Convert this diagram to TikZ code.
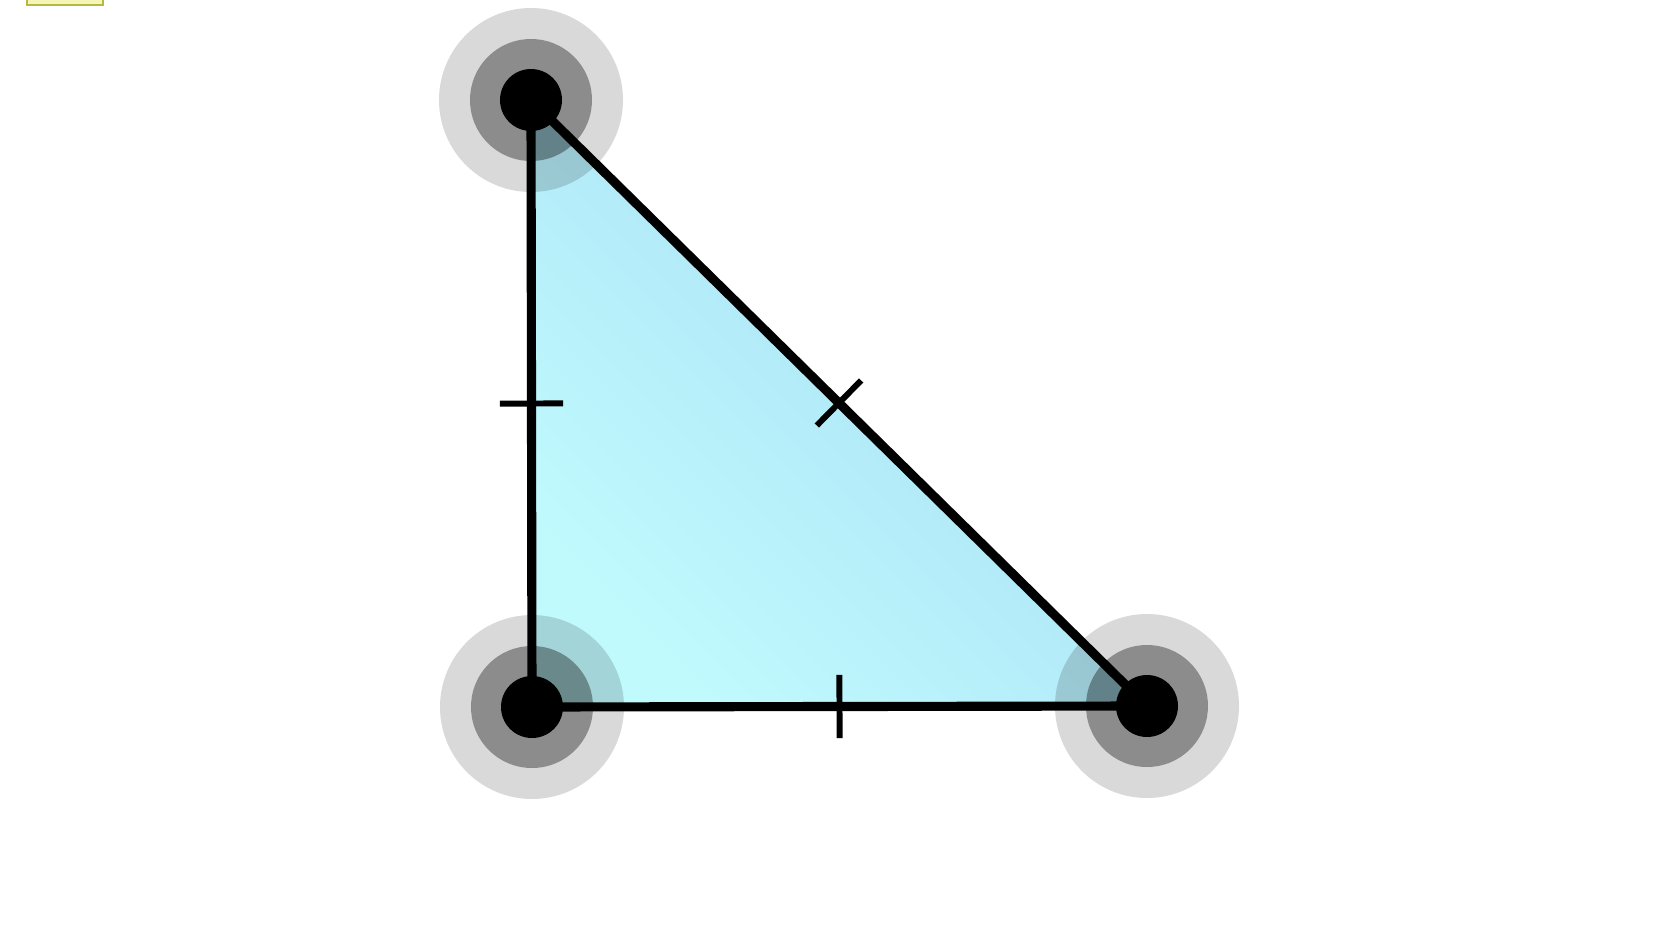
\documentclass[tikz,border=0pt]{standalone}
\usetikzlibrary{calc, arrows.meta,decorations.markings}
\definecolor{trilow}{RGB}{192,250,253}
\definecolor{trihigh}{RGB}{166,220,245}
\definecolor{notefill}{HTML}{F5F5B8}
\definecolor{noteline}{HTML}{B8B840}

\begin{document}
\begin{tikzpicture}[x=0.1mm, y=-0.1mm, line width=2.6pt,
  tickone/.style={postaction={decorate, decoration={markings,
    mark=at position 0.5 with {\draw[line width=1.7pt] (0pt,-9pt) -- (0pt,9pt);}}}}]
  \useasboundingbox (0,0) rectangle (1680,931);
  \coordinate (A) at (531,100);
  \coordinate (B) at (532,707);
  \coordinate (C) at (1147,706);
  % small note box in the corner
  \draw[fill=notefill, draw=noteline, line width=0.6pt] (27,-20) rectangle (103,5);
  \shade[bottom color=trilow, top color=trihigh, shading angle=-45]
    (A) -- (B) -- (C) -- cycle;
  % see-through halos round the corners
  \foreach \p in {A,B,C} {
    \fill[black, fill opacity=0.15, even odd rule] (\p) circle (92) (\p) circle (61);
    \fill[black, fill opacity=0.45] (\p) circle (61);
  }
  \draw[tickone] (A) -- (B);
  \draw[tickone] (B) -- (C);
  \draw[tickone] (A) -- (C);
  \foreach \p in {A,B,C}
    \fill (\p) circle (31);
\end{tikzpicture}
\end{document}
